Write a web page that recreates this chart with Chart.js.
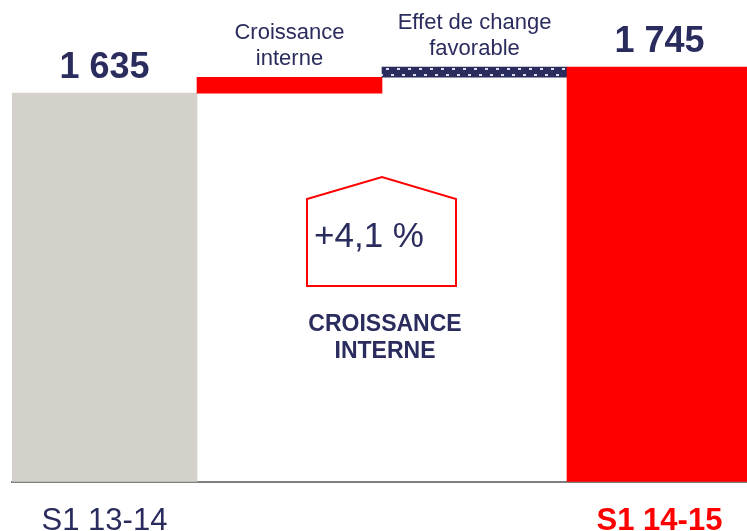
<!DOCTYPE html>
<html>
<head>
<meta charset="utf-8">
<script src="https://cdn.jsdelivr.net/npm/chart.js@4"></script>
<style>
  html, body { margin: 0; padding: 0; background: #fff; overflow: hidden; width: 747px; height: 531px; }
  #wrap { position: absolute; left: 0; top: 0; width: 752px; height: 561px; }
</style>
</head>
<body>
<div id="wrap"><canvas id="myChart" width="752" height="561"></canvas></div>
<script>
// data
const categories = ['S1 13-14', 'Croissance interne', 'Effet de change favorable', 'S1 14-15'];
const tickLabels = ['S1 13-14', '', '', 'S1 14-15'];
const stepLabels = [[], ['Croissance', 'interne'], ['Effet de change', 'favorable'], []];
const startTotal = 1635;
const deltas = [67, 43];        // croissance interne, effet de change
const endTotal = 1745;
const growthText = '+4,1 %';
const growthCaption = ['CROISSANCE', 'INTERNE'];

const NAVY = '#2b2c5e';
const RED = '#ff0000';
const GREY = '#d4d1ca';
const FONT = '"Liberation Sans", Arial, sans-serif';

// floating bars for the waterfall
const bars = [];
bars.push([0, startTotal]);
let run = startTotal;
deltas.forEach(d => { bars.push([run, run + d]); run += d; });
bars.push([0, endTotal]);

function dotPattern() {
  const c = document.createElement('canvas');
  c.width = 11; c.height = 12;
  const g = c.getContext('2d');
  g.fillStyle = NAVY;
  g.fillRect(0, 0, 11, 12);
  g.fillStyle = '#dcdcea';
  g.fillRect(1, 8, 3, 2);
  g.fillRect(6, 2, 3, 2);
  return g.createPattern(c, 'repeat');
}

function fmt(v) {
  return String(v).replace(/\B(?=(\d{3})+(?!\d))/g, ' ');
}

const annotations = {
  id: 'annotations',
  afterDatasetsDraw(chart) {
    const ctx = chart.ctx;
    const meta = chart.getDatasetMeta(0).data;
    ctx.save();
    ctx.fillStyle = NAVY;
    ctx.textAlign = 'center';
    ctx.textBaseline = 'alphabetic';

    // totals above first and last bar
    [0, 3].forEach(i => {
      const b = meta[i];
      ctx.font = 'bold 36px ' + FONT;
      ctx.fillText(fmt(bars[i][1]), b.x, b.y - 15);
    });

    // step captions
    [1, 2].forEach(i => {
      const b = meta[i];
      const lines = stepLabels[i];
      ctx.font = '22px ' + FONT;
      for (let k = 0; k < lines.length; k++) {
        const y = b.y - 12 - (lines.length - 1 - k) * 26;
        ctx.fillText(lines[k], b.x, y);
      }
    });

    // house box with growth %
    const ax = meta[1].x + meta[1].width / 2;
    const top = chart.chartArea.top;
    ctx.strokeStyle = RED;
    ctx.lineWidth = 2;
    ctx.beginPath();
    ctx.moveTo(ax - 75, top + 286);
    ctx.lineTo(ax - 75, top + 199);
    ctx.lineTo(ax, top + 177);
    ctx.lineTo(ax + 74, top + 199);
    ctx.lineTo(ax + 74, top + 286);
    ctx.closePath();
    ctx.stroke();

    ctx.font = '35px ' + FONT;
    ctx.fillText(growthText, ax - 13, top + 247);

    ctx.font = 'bold 23px ' + FONT;
    ctx.fillText(growthCaption[0], ax + 3, top + 331);
    ctx.fillText(growthCaption[1], ax + 3, top + 358);
    ctx.restore();
  }
};

new Chart(document.getElementById('myChart'), {
  type: 'bar',
  data: {
    labels: categories,
    datasets: [{
      data: bars,
      backgroundColor: [GREY, RED, dotPattern(), RED],
      borderWidth: 0,
      barPercentage: 1,
      categoryPercentage: 1
    }]
  },
  options: {
    responsive: false,
    animation: false,
    layout: { padding: { left: 12, right: 0, top: 0, bottom: 0 } },
    plugins: {
      legend: { display: false },
      tooltip: { enabled: false }
    },
    scales: {
      x: {
        grid: { display: false, drawTicks: false },
        border: { display: true, color: '#7f7f7f', width: 2 },
        ticks: {
          padding: 21,
          callback: (v, i) => tickLabels[i],
          color: (c) => c.index === 3 ? RED : NAVY,
          font: (c) => ({ family: FONT, size: 31, weight: c.index === 3 ? 'bold' : 'normal' })
        }
      },
      y: {
        display: false,
        min: 0,
        max: 2027
      }
    }
  },
  plugins: [annotations]
});
</script>
</body>
</html>
